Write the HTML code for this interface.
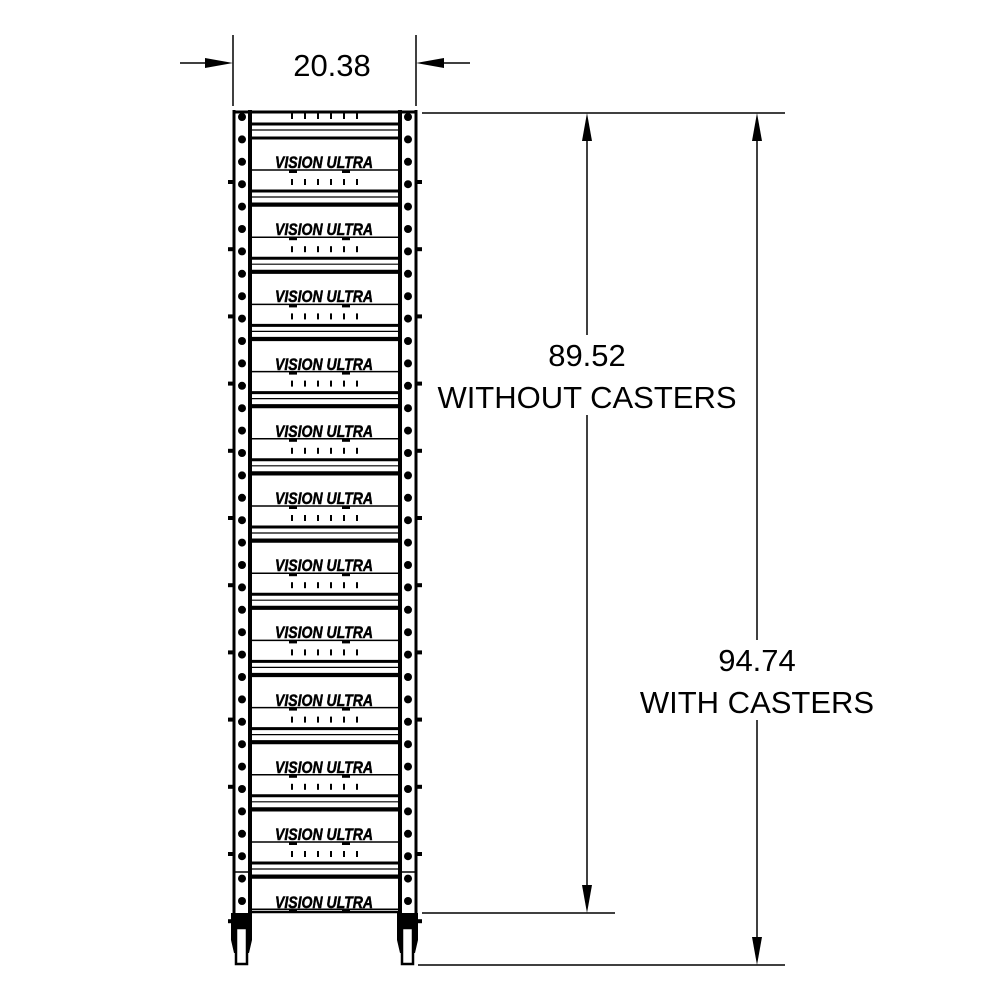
<!DOCTYPE html>
<html><head><meta charset="utf-8"><style>
html,body{margin:0;padding:0;background:#fff;}
svg{display:block}
.t{font-family:"Liberation Sans",sans-serif;font-size:31px;fill:#000;text-anchor:middle}
.v{font-family:"Liberation Sans",sans-serif;font-size:17px;font-weight:bold;font-style:italic;fill:#000;stroke:#000;stroke-width:0.5;}
</style></head><body>
<svg id="s" width="1000" height="1000" viewBox="0 0 1000 1000" xmlns="http://www.w3.org/2000/svg">
<g stroke="#000" fill="none">
<line x1="233" y1="35" x2="233" y2="106" stroke-width="1.5"/>
<line x1="416" y1="35" x2="416" y2="106" stroke-width="1.5"/>
<line x1="180" y1="63" x2="205" y2="63" stroke-width="1.5"/>
<line x1="444" y1="63" x2="470" y2="63" stroke-width="1.5"/>
<line x1="422" y1="113" x2="785" y2="113" stroke-width="1.5"/>
<line x1="422" y1="913" x2="615" y2="913" stroke-width="1.5"/>
<line x1="418" y1="965" x2="785" y2="965" stroke-width="1.5"/>
<line x1="587" y1="140" x2="587" y2="335" stroke-width="1.5"/>
<line x1="587" y1="415" x2="587" y2="886" stroke-width="1.5"/>
<line x1="757" y1="140" x2="757" y2="640" stroke-width="1.5"/>
<line x1="757" y1="720" x2="757" y2="938" stroke-width="1.5"/>
</g>
<g fill="#000">
<polygon points="233,63 205,58 205,68"/>
<polygon points="416,63 444,58 444,68"/>
<polygon points="587,113 582,141 592,141"/>
<polygon points="587,913 582,885 592,885"/>
<polygon points="757,113 752,141 762,141"/>
<polygon points="757,965 752,937 762,937"/>
</g>
<text class="t" x="332" y="76">20.38</text>
<text class="t" x="587" y="366">89.52</text>
<text class="t" x="587" y="408">WITHOUT CASTERS</text>
<text class="t" x="757" y="671">94.74</text>
<text class="t" x="757" y="713">WITH CASTERS</text>
<g id="rack"></g>
<g>
<text class="v" x="275" y="168" textLength="98" lengthAdjust="spacingAndGlyphs">VISION ULTRA</text>
<text class="v" x="275" y="235" textLength="98" lengthAdjust="spacingAndGlyphs">VISION ULTRA</text>
<text class="v" x="275" y="302" textLength="98" lengthAdjust="spacingAndGlyphs">VISION ULTRA</text>
<text class="v" x="275" y="370" textLength="98" lengthAdjust="spacingAndGlyphs">VISION ULTRA</text>
<text class="v" x="275" y="437" textLength="98" lengthAdjust="spacingAndGlyphs">VISION ULTRA</text>
<text class="v" x="275" y="504" textLength="98" lengthAdjust="spacingAndGlyphs">VISION ULTRA</text>
<text class="v" x="275" y="571" textLength="98" lengthAdjust="spacingAndGlyphs">VISION ULTRA</text>
<text class="v" x="275" y="638" textLength="98" lengthAdjust="spacingAndGlyphs">VISION ULTRA</text>
<text class="v" x="275" y="706" textLength="98" lengthAdjust="spacingAndGlyphs">VISION ULTRA</text>
<text class="v" x="275" y="773" textLength="98" lengthAdjust="spacingAndGlyphs">VISION ULTRA</text>
<text class="v" x="275" y="840" textLength="98" lengthAdjust="spacingAndGlyphs">VISION ULTRA</text>
<text class="v" x="275" y="908" textLength="98" lengthAdjust="spacingAndGlyphs">VISION ULTRA</text>
</g>
</svg>
<script>
var g=document.getElementById('rack'),h='';
function L(x1,y1,x2,y2,w){h+='<line x1="'+x1+'" y1="'+y1+'" x2="'+x2+'" y2="'+y2+'" stroke="#000" stroke-width="'+w+'"/>';}
L(234,110,234,930,3);L(250,110,250,915,4);
L(400,110,400,915,4);L(416,110,416,930,3);
L(234,112,416,112,3);
for(var i=0;i<12;i++){var c=162+67.2*i;
 L(250,c-24,400,c-24,3);L(250,c+8,400,c+8,1.5);
 h+='<rect x="289" y="'+(c+8)+'" width="8" height="3"/><rect x="342" y="'+(c+8)+'" width="8" height="3"/>';
 if(i<11){for(var k=0;k<6;k++){var x=292+k*13;L(x,c+17,x,c+23,2);}
 L(250,c+29,400,c+29,3);L(250,c+35,400,c+35,1.2);L(250,c+42,400,c+42,3);}
}
for(var k=0;k<6;k++){var x=292+k*13;L(x,113,x,119,2);}
L(250,124,400,124,3);L(250,130,400,130,1.2);
L(250,912,400,912,2.5);L(234,872,250,872,1.5);L(400,872,416,872,1.5);
for(var y=117;y<910;y+=22.4){h+='<circle cx="242" cy="'+y+'" r="4"/><circle cx="408" cy="'+y+'" r="4"/>';}
for(var i=0;i<12;i++){var y=182+67.2*i;h+='<rect x="228" y="'+(y-2)+'" width="5" height="4"/><rect x="417" y="'+(y-2)+'" width="5" height="4"/>';}
[[231,252],[397,418]].forEach(function(p){
 h+='<path d="M'+p[0]+' 913 L'+p[1]+' 913 L'+p[1]+' 940 L'+(p[1]-3)+' 953 L'+(p[0]+3)+' 953 L'+p[0]+' 940 Z" fill="#000"/>';
 h+='<rect x="'+(p[0]+5)+'" y="928" width="'+(p[1]-p[0]-10)+'" height="36" fill="#fff" stroke="#000" stroke-width="2.5"/>';
});
g.innerHTML=h;
</script>
</body></html>
